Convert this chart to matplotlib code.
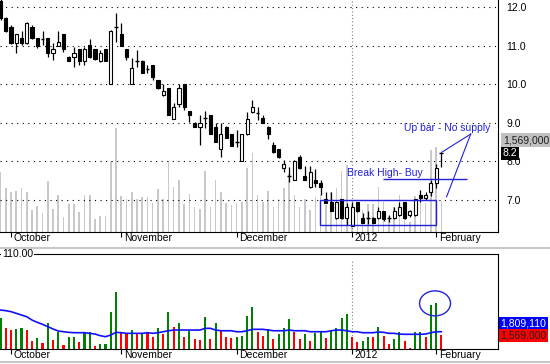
import numpy as np
import matplotlib.pyplot as plt
import matplotlib.transforms as mtransforms
from matplotlib.patches import Rectangle, Ellipse
from matplotlib.lines import Line2D

plt.rcParams['font.family'] = ['Liberation Sans', 'DejaVu Sans']
plt.rcParams['font.size'] = 7.5

# daily bars, late Sep 2011 .. early Feb 2012
opens = [12.15, 11.72, 11.49, 11.07, 11.19, 11.07, 11.49, 11.19, 11.19, 11.19,
         10.80, 11.00, 11.29, 10.71, 10.69, 10.90, 10.60, 11.01, 10.90, 10.60,
         10.90, 9.99, 11.50, 11.29, 10.90, 9.99, 10.62, 10.60, 10.42, 10.49,
         10.10, 9.71, 9.89, 9.09, 9.48, 9.99, 9.31, 9.00, 8.89, 9.11,
         9.19, 8.89, 8.30, 8.89, 8.69, 8.50, 8.00, 8.69, 9.28, 9.25,
         9.11, 8.89, 8.42, 8.30, 7.83, 7.62, 7.51, 8.11, 7.62, 7.32,
         7.51, 7.44, 7.01, 6.94, 6.51, 7.01, 6.51, 6.31, 6.93, 6.51,
         6.51, 6.51, 6.51, 6.70, 6.51, 6.51, 6.60, 6.93, 6.60, 6.60,
         7.13, 7.03, 7.20, 7.42, 8.20]
highs = [12.20, 11.75, 11.52, 11.31, 11.38, 11.60, 11.52, 11.20, 11.38, 11.20,
         11.06, 11.38, 11.30, 10.72, 10.97, 10.92, 10.97, 11.17, 10.92, 10.88,
         10.92, 11.40, 11.85, 11.58, 10.92, 10.67, 10.88, 10.62, 10.49, 10.50,
         10.10, 9.99, 9.90, 9.50, 9.99, 9.99, 9.31, 9.02, 9.19, 9.30,
         9.20, 8.98, 8.98, 8.90, 8.70, 8.80, 8.70, 9.28, 9.58, 9.41,
         9.20, 8.90, 8.50, 8.32, 8.03, 7.85, 8.02, 8.15, 7.88, 7.88,
         7.78, 7.51, 7.20, 7.20, 6.96, 7.02, 6.90, 6.94, 6.94, 6.64,
         6.70, 6.55, 6.81, 6.71, 6.59, 6.81, 6.94, 6.94, 6.73, 7.02,
         7.25, 7.20, 7.51, 7.91, 8.22]
lows = [11.65, 11.35, 11.05, 10.81, 11.01, 11.05, 11.17, 10.93, 11.01, 10.71,
        10.62, 10.98, 10.82, 10.60, 10.45, 10.49, 10.50, 10.67, 10.62, 10.57,
        10.60, 9.99, 11.10, 10.98, 10.62, 9.99, 10.45, 10.29, 10.29, 10.10,
        9.86, 9.70, 9.19, 9.08, 9.40, 9.32, 9.02, 8.89, 8.42, 8.87,
        8.69, 8.50, 8.11, 8.60, 8.38, 8.37, 8.00, 8.68, 9.25, 9.07,
        9.00, 8.56, 8.20, 8.08, 7.72, 7.46, 7.50, 7.80, 7.50, 7.30,
        7.33, 7.12, 6.90, 6.70, 6.50, 6.50, 6.34, 6.30, 6.68, 6.40,
        6.36, 6.40, 6.50, 6.45, 6.42, 6.50, 6.58, 6.50, 6.55, 6.58,
        6.94, 7.00, 7.10, 7.29, 7.85]
closes = [11.71, 11.38, 11.07, 11.29, 11.06, 11.59, 11.19, 11.00, 11.17, 10.80,
          10.90, 11.08, 10.90, 10.60, 10.80, 10.60, 10.90, 10.69, 10.66, 10.80,
          10.60, 11.38, 11.48, 11.00, 10.69, 10.41, 10.60, 10.29, 10.40, 10.19,
          9.89, 9.82, 9.19, 9.41, 9.89, 9.41, 9.19, 8.89, 9.00, 9.11,
          8.69, 8.50, 8.69, 8.60, 8.40, 8.50, 8.69, 9.09, 9.41, 9.24,
          9.00, 8.69, 8.23, 8.11, 7.91, 7.62, 8.00, 7.83, 7.51, 7.72,
          7.42, 7.32, 6.92, 6.71, 6.94, 6.51, 6.81, 6.81, 6.71, 6.40,
          6.51, 6.40, 6.70, 6.50, 6.51, 6.70, 6.81, 6.51, 6.71, 7.01,
          7.03, 7.12, 7.44, 7.81, 8.20]
# volume in millions of shares
volumes = [3.47, 2.42, 2.16, 2.24, 2.42, 2.16, 0.96, 1.23, 0.74, 2.91,
           1.04, 1.97, 0.48, 1.34, 1.34, 0.85, 1.97, 1.97, 0.37, 0.56,
           0.56, 4.21, 6.38, 1.90, 1.68, 2.16, 1.68, 1.86, 1.86, 1.41,
           2.35, 1.68, 4.21, 2.50, 2.98, 1.34, 2.05, 1.15, 1.04, 3.58,
           1.15, 2.98, 2.16, 1.41, 1.30, 1.41, 1.49, 3.73, 4.77, 1.97,
           1.49, 2.24, 1.15, 1.71, 2.42, 3.36, 1.97, 1.15, 1.71, 0.96,
           1.86, 1.97, 1.30, 2.16, 2.42, 3.54, 3.92, 1.34, 0.85, 0.96,
           1.34, 1.34, 2.50, 1.49, 0.56, 1.15, 1.97, 0.96, 0.19, 1.90,
           1.90, 1.41, 4.96, 5.15, 1.569]
vol_up = "grrggrrgrg" "rgrggrggrg" "gggrrgrgrr" "grgrgrgrrg" "rgrrrggggr" \
         "rgrgggrrgr" "ggrggggrrg" "grgrrggrrg" "grggr"
vol_avg = [4.40, 4.33, 4.22, 4.03, 3.84, 3.65, 3.28, 3.02, 2.80, 2.54,
           2.28, 2.05, 1.97, 1.90, 1.86, 1.86, 1.86, 1.79, 1.71, 1.53,
           1.41, 1.60, 1.90, 1.86, 1.79, 1.79, 1.79, 1.79, 1.86, 1.79,
           1.86, 1.97, 2.08, 2.16, 2.16, 2.16, 2.16, 2.16, 2.16, 2.35,
           2.35, 2.16, 2.08, 2.08, 2.08, 1.97, 1.97, 2.08, 2.24, 2.24,
           2.24, 2.16, 2.08, 2.08, 2.08, 2.16, 2.08, 2.08, 2.08, 1.97,
           1.97, 1.97, 1.97, 2.08, 2.16, 2.16, 2.08, 1.97, 1.97, 1.86,
           1.86, 1.86, 1.94, 1.90, 1.79, 1.79, 1.71, 1.68, 1.68, 1.68,
           1.68, 1.71, 1.86, 1.97, 1.97]
month_pos = [2, 23, 45, 67, 83]
month_labels = ['October', 'November', 'December', '2012', 'February']
price_ticks = [7.0, 8.0, 9.0, 10.0, 11.0, 12.0]

x = np.arange(len(closes))
o = np.array(opens); c = np.array(closes)
h = np.array(highs); l = np.array(lows)
v = np.array(volumes)
blue = '#2222dd'

fig = plt.figure(figsize=(5.5, 3.64), dpi=100)
ax = fig.add_axes([0, 1 - 232 / 364, 498 / 550, 232 / 364])
axv = ax.twinx()
axl = fig.add_axes([0, 1 - 349.3 / 364, 498 / 550, 95 / 364])

# gray volume overlay behind the candles
vmin = -0.49
axv.bar(x, v - vmin, bottom=vmin, width=0.3, color='#c8c8c8', zorder=1)
axv.set_ylim(vmin, 14.87)
axv.set_yticks([])
for s in axv.spines.values():
    s.set_visible(False)
ax.set_zorder(axv.get_zorder() + 1)
ax.patch.set_visible(False)

# candles
ax.vlines(x, l, h, color='black', lw=0.9, zorder=3)
body = np.abs(c - o) > 0.02
up = c >= o
ax.bar(x[body], np.abs(c - o)[body], bottom=np.minimum(o, c)[body], width=0.6,
       color=np.where(up[body], 'white', 'black'), edgecolor='black', lw=0.8, zorder=4)
ax.hlines(c[~body], x[~body] - 0.35, x[~body] + 0.35, color='black', lw=1, zorder=4)

for p in price_ticks:
    ax.axhline(p, color='black', ls=(0, (1, 4)), lw=0.8, zorder=2)
ax.axvline(67, color='#808080', ls=(0, (1, 2)), lw=0.8, zorder=2)

ax.set_xlim(-0.1, 94.8)
ax.set_ylim(6.156, 12.182)
ax.yaxis.tick_right()
ax.set_yticks(price_ticks, ['%.1f' % p for p in price_ticks])
ax.tick_params(axis='y', length=0, pad=6)
ax.spines['top'].set_visible(False)
ax.spines['left'].set_visible(False)

# annotations
ax.add_patch(Rectangle((60.9, 6.34), 22.0, 0.66, fill=False, edgecolor=blue, lw=1, zorder=5))
ax.text(66, 7.70, 'Break High- Buy', color=blue, ha='left', va='center', zorder=6)
ax.hlines(7.53, 72.9, 88.8, color=blue, lw=1, zorder=5)
ax.text(76.9, 8.85, 'Up bar - No supply', color=blue, ha='left', va='center', zorder=6)
ax.plot([89.6, 84.0], [8.70, 8.22], color=blue, lw=0.8, zorder=5)
ax.plot([89.6, 85.0], [8.70, 7.07], color=blue, lw=0.8, zorder=5)

# lower volume panel
cols = ['#008000' if f == 'g' else '#ff0000' for f in vol_up]
axl.bar(x, v, width=0.4, color=cols, zorder=2)
axl.plot(x, vol_avg, color='#1010ff', lw=1.2, zorder=3)
axl.axvline(67, color='#808080', ls=(0, (1, 2)), lw=0.8, ymax=0.95, zorder=1)
axl.add_patch(Ellipse((82.8, 5.15), 5.9, 2.8, fill=False, edgecolor=blue, lw=1, zorder=4))
axl.set_xlim(-0.1, 94.8)
axl.set_ylim(0, 10.65)
axl.set_yticks([])
axl.spines['left'].set_visible(False)

for a in (ax, axl):
    a.set_xticks(month_pos, month_labels)
    a.tick_params(axis='x', direction='out', length=3.5, pad=-3)
    off = mtransforms.ScaledTranslation(2 / 72, 0, fig.dpi_scale_trans)
    for lab in a.get_xticklabels():
        lab.set_horizontalalignment('left')
        lab.set_transform(lab.get_transform() + off)

# value boxes on the right
ax.text(1.01, 8.545, '1,569,000', transform=ax.get_yaxis_transform(), ha='left', va='center',
        color='#202020', bbox=dict(boxstyle='square,pad=0.15', fc='#c0c0c0', ec='none'))
ax.text(1.01, c[-1], '%.1f' % c[-1], transform=ax.get_yaxis_transform(), ha='left', va='center',
        color='white', bbox=dict(boxstyle='square,pad=0.15', fc='black', ec='none'), zorder=7)
axl.text(1.005, vol_avg[-1] + 0.9, '1,809,110', transform=axl.get_yaxis_transform(), ha='left',
         va='center', color='white', bbox=dict(boxstyle='square,pad=0.15', fc='#0000ff', ec='none'))
axl.text(1.005, volumes[-1], '1,569,000', transform=axl.get_yaxis_transform(), ha='left',
         va='center', color='#202020', bbox=dict(boxstyle='square,pad=0.15', fc='#ff0000', ec='none'))
axl.text(0.004, 1.0, '110.00', transform=axl.transAxes, ha='left', va='center',
         bbox=dict(boxstyle='square,pad=0.1', fc='white', ec='none'))

fig.add_artist(Line2D([0, 1], [1 - 248 / 364] * 2, color='#c8c8c8', lw=1.5))
fig.add_artist(Line2D([0, 1], [1 - 362 / 364] * 2, color='#c8c8c8', lw=1.5))

fig.savefig('out.png', dpi=100)
